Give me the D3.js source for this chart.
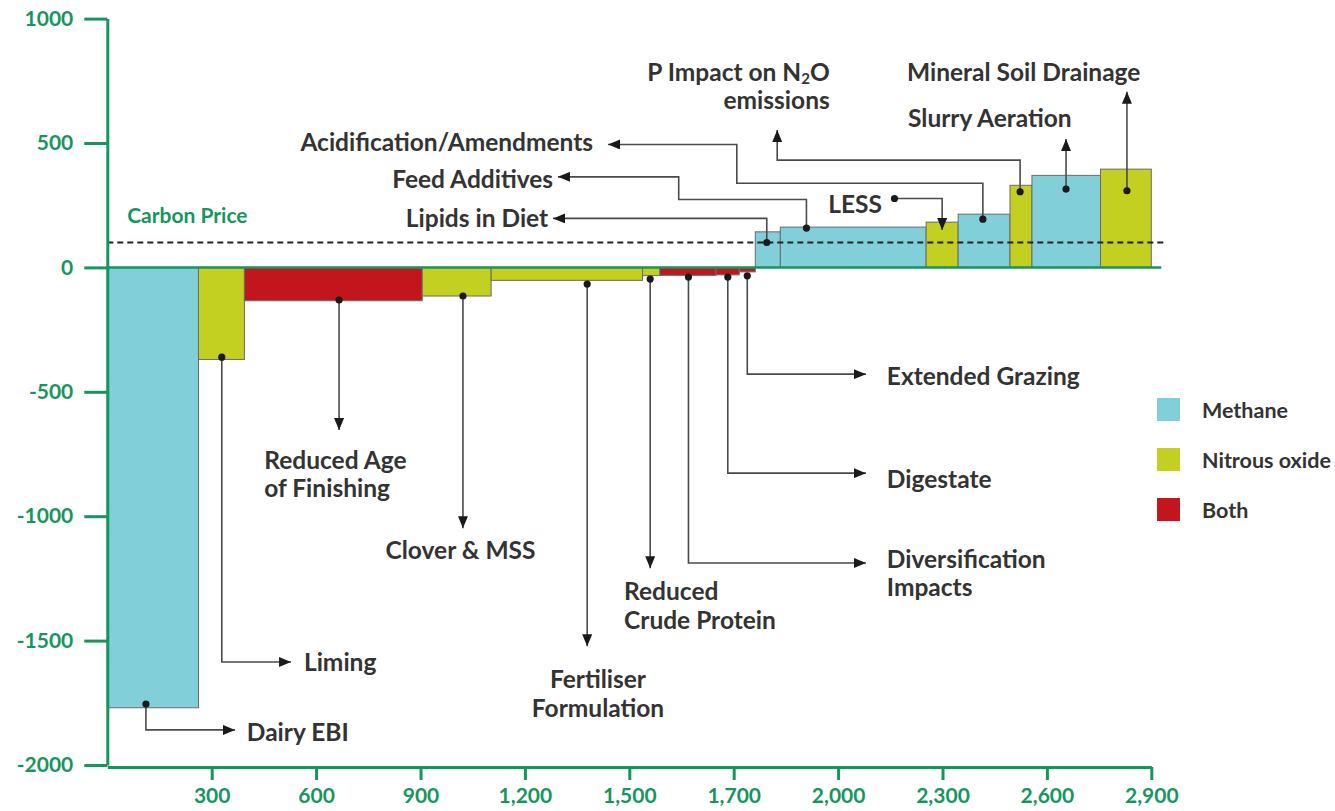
<!DOCTYPE html>
<html>
<head>
<meta charset="utf-8">
<script src="https://cdn.jsdelivr.net/npm/d3@7"></script>
<style>
  body { margin: 0; background: #fff; }
  svg text { font-family: Lato, "Open Sans", sans-serif; }
</style>
</head>
<body>
<svg id="macc" width="1335" height="811"></svg>
<script>
// measures, left to right along the curve
var categories = ["Dairy EBI", "Liming", "Reduced Age of Finishing", "Clover & MSS",
    "Fertiliser Formulation", "Reduced Crude Protein", "Diversification Impacts", "Digestate",
    "Extended Grazing", "Lipids in Diet", "Feed Additives", "LESS", "Acidification/Amendments",
    "P Impact on N2O emissions", "Slurry Aeration", "Mineral Soil Drainage"];
var gasTypes = ["Methane", "Nitrous oxide", "Both", "Nitrous oxide", "Nitrous oxide", "Nitrous oxide",
    "Both", "Both", "Both", "Methane", "Methane", "Nitrous oxide", "Methane", "Nitrous oxide",
    "Methane", "Nitrous oxide"];
var abatement = [262, 132, 511, 198, 435, 50, 161, 67, 46, 72, 419, 92, 149, 63, 197, 146];
var costs = [-1770, -370, -134, -115, -52, -33, -32, -30, -18, 143, 162, 182, 214, 330, 370, 395];

var carbonPrice = 100;
var legendKeys = ["Methane", "Nitrous oxide", "Both"];
var xTickValues = [300, 600, 900, 1200, 1500, 1800, 2100, 2400, 2700, 3000];
var xTickLabels = ["300", "600", "900", "1,200", "1,500", "1,700", "2,000", "2,300", "2,600", "2,900"];
var yTickValues = [-2000, -1500, -1000, -500, 0, 500, 1000];
var yTickLabels = ["-2000", "-1500", "-1000", "-500", "0", "500", "1000"];

// leader lines: dot first, arrow tip last (data units)
var notes = [
    {lines: ["Dairy EBI"], path: [[111, -1755], [111, -1859], [367, -1859]], at: [401, -1863], anchor: "start"},
    {lines: ["Liming"], path: [[329, -361], [329, -1586], [528, -1586]], at: [565, -1582], anchor: "start"},
    {lines: ["Reduced Age", "of Finishing"], path: [[666, -131], [666, -654]], at: [451, -769], anchor: "start"},
    {lines: ["Clover & MSS"], path: [[1022, -115], [1022, -1048]], at: [1015, -1131], anchor: "middle"},
    {lines: ["Fertiliser", "Formulation"], path: [[1379, -67], [1379, -1523]], at: [1410, -1651], anchor: "middle"},
    {lines: ["Reduced", "Crude Protein"], path: [[1560, -47], [1560, -1209]], at: [1485, -1298], anchor: "start"},
    {lines: ["Diversification", "Impacts"], path: [[1670, -39], [1670, -1188], [2180, -1188]], at: [2240, -1168], anchor: "start"},
    {lines: ["Digestate"], path: [[1783, -39], [1783, -827], [2180, -827]], at: [2240, -847], anchor: "start"},
    {lines: ["Extended Grazing"], path: [[1839, -34], [1839, -429], [2180, -429]], at: [2240, -433], anchor: "start"},
    {lines: ["Lipids in Diet"], path: [[1895, 100], [1895, 197], [1281, 197]], at: [1267, 202], anchor: "end"},
    {lines: ["Feed Additives"], path: [[2009, 158], [2009, 273], [1642, 273], [1642, 364], [1295, 364]], at: [1281, 359], anchor: "end"},
    {lines: ["Acidification/Amendments"], path: [[2516, 194], [2516, 338], [1809, 338], [1809, 494], [1439, 494]], at: [1396, 508], anchor: "end"},
    {lines: ["P Impact on N|2|O", "emissions"], path: [[2623, 304], [2623, 431], [1925, 431], [1925, 552]], at: [2076, 790], anchor: "end"},
    {lines: ["LESS"], path: [[2262, 277], [2399, 277], [2399, 150]], at: [2226, 258], anchor: "end"},
    {lines: ["Slurry Aeration"], path: [[2755, 315], [2755, 516]], at: [2301, 604], anchor: "start"},
    {lines: ["Mineral Soil Drainage"], path: [[2930, 308], [2930, 706]], at: [2298, 790], anchor: "start"}
];

var green = "#17955f";
var ink = "#333333";
var gasColour = d3.scaleOrdinal()
    .domain(legendKeys)
    .range(["#80cfd9", "#c3cf21", "#c2161c"]);

var svg = d3.select("#macc");

var x = d3.scaleLinear().domain([0, 3000]).range([107.3, 1151.3]);
var y = d3.scaleLinear().domain([-2000, 1000]).range([765, 18.6]);

var bars = [];
var start = 0;
categories.forEach(function(name, i) {
    bars.push({name: name, gas: gasTypes[i], x0: start, x1: start + abatement[i], cost: costs[i]});
    start += abatement[i];
});

var defs = svg.append("defs");
defs.append("marker")
    .attr("id", "arrow")
    .attr("viewBox", "0 0 12 10")
    .attr("refX", 12)
    .attr("refY", 5)
    .attr("markerWidth", 12)
    .attr("markerHeight", 10)
    .attr("markerUnits", "userSpaceOnUse")
    .attr("orient", "auto")
    .append("path")
    .attr("d", "M0,0L12,5L0,10Z")
    .attr("fill", "#1a1a1a");

// Bars
svg.append("g").selectAll("rect")
    .data(bars)
    .enter()
    .append("rect")
    .attr("x", function(d) { return x(d.x0); })
    .attr("width", function(d) { return x(d.x1) - x(d.x0); })
    .attr("y", function(d) { return Math.min(y(d.cost), y(0)); })
    .attr("height", function(d) { return Math.abs(y(d.cost) - y(0)); })
    .attr("fill", function(d) { return gasColour(d.gas); })
    .attr("stroke", "#6b6b6b")
    .attr("stroke-width", 1);

// Carbon price line
svg.append("line")
    .attr("x1", x(0)).attr("x2", x(3000) + 12)
    .attr("y1", y(carbonPrice)).attr("y2", y(carbonPrice))
    .attr("stroke", "#222")
    .attr("stroke-width", 1.8)
    .attr("stroke-dasharray", "6,4");

svg.append("text")
    .attr("x", x(57))
    .attr("y", y(214))
    .attr("dominant-baseline", "central")
    .attr("fill", green)
    .style("font-size", "21px")
    .style("font-weight", 700)
    .text("Carbon Price");

// Zero line
svg.append("line")
    .attr("x1", x(0)).attr("x2", x(3000) + 10)
    .attr("y1", y(0)).attr("y2", y(0))
    .attr("stroke", green)
    .attr("stroke-width", 2.5);

// Axes
var yAxis = svg.append("g")
    .attr("transform", "translate(" + x(0) + ",0)")
    .call(d3.axisLeft(y)
        .tickValues(yTickValues)
        .tickFormat(function(d, i) { return yTickLabels[i]; })
        .tickSize(23)
        .tickSizeOuter(0)
        .tickPadding(11));

var xAxis = svg.append("g")
    .attr("transform", "translate(0," + (y(-2000) + 2) + ")")
    .call(d3.axisBottom(x)
        .tickValues(xTickValues)
        .tickFormat(function(d, i) { return xTickLabels[i]; })
        .tickSize(13)
        .tickSizeOuter(0)
        .tickPadding(8));

[yAxis, xAxis].forEach(function(ax) {
    ax.selectAll("path, line").attr("stroke", green).attr("stroke-width", 3);
    ax.selectAll("text")
        .attr("fill", green)
        .style("font-size", "21px")
        .style("font-weight", 700)
        .style("font-family", "Lato, sans-serif");
});

// Leader lines and labels
var line = d3.line()
    .x(function(p) { return x(p[0]); })
    .y(function(p) { return y(p[1]); });

var noteG = svg.append("g");
notes.forEach(function(n) {
    noteG.append("path")
        .attr("d", line(n.path))
        .attr("fill", "none")
        .attr("stroke", "#4a4a4a")
        .attr("stroke-width", 1.6)
        .attr("marker-end", "url(#arrow)");
    noteG.append("circle")
        .attr("cx", x(n.path[0][0]))
        .attr("cy", y(n.path[0][1]))
        .attr("r", 3.6)
        .attr("fill", "#1a1a1a");

    n.lines.forEach(function(txt, k) {
        var t = noteG.append("text")
            .attr("x", x(n.at[0]))
            .attr("y", y(n.at[1]) + k * 28.5)
            .attr("dominant-baseline", "central")
            .attr("text-anchor", n.anchor)
            .attr("fill", ink)
            .style("font-size", "24.5px")
            .style("font-weight", 700);
        var parts = txt.split("|");
        parts.forEach(function(p, j) {
            var ts = t.append("tspan").text(p);
            if (j === 1) ts.attr("dy", 7).style("font-size", "15px");
            if (j === 2) ts.attr("dy", -7);
        });
    });
});

// Legend
var legend = svg.append("g").attr("transform", "translate(1157,398)");
legendKeys.forEach(function(k, i) {
    legend.append("rect")
        .attr("x", 0).attr("y", i * 50)
        .attr("width", 23).attr("height", 23)
        .attr("fill", gasColour(k));
    legend.append("text")
        .attr("x", 45).attr("y", i * 50 + 11.5)
        .attr("dominant-baseline", "central")
        .attr("fill", ink)
        .style("font-size", "21.5px")
        .style("font-weight", 700)
        .text(k);
});
</script>
</body>
</html>
